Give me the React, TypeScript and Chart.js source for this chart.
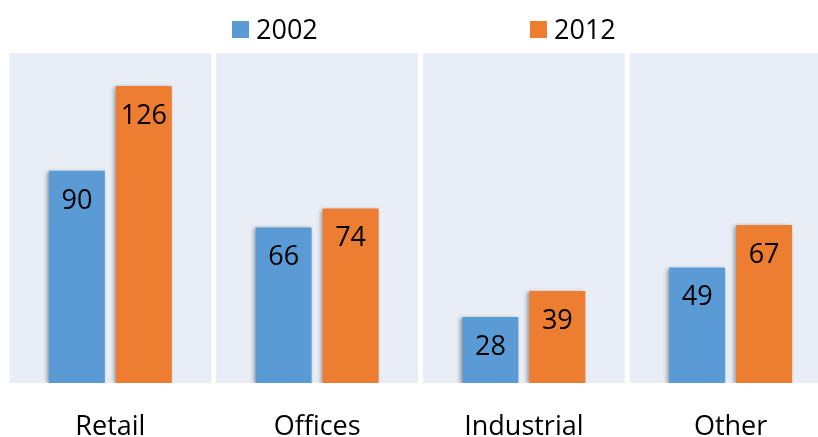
import React, { useEffect, useRef } from "react";
import { Chart, registerables } from "chart.js";

Chart.register(...registerables);

const categories = ["Retail", "Offices", "Industrial", "Other"];
const seriesNames = ["2002", "2012"];
const values2002 = [90, 66, 28, 49];
const values2012 = [126, 74, 39, 67];
const seriesColors = ["#5B9BD5", "#ED7D31"];
const yMax = 140;

const FONT = "'Open Sans', 'Noto Sans', sans-serif";
const FONT_SIZE = 27;

const panelsPlugin = {
  id: "panels",
  beforeDatasetsDraw(chart: any) {
    const { ctx, chartArea, scales } = chart;
    const x = scales.x;
    const n = categories.length;
    const step = (chartArea.right - chartArea.left) / n;
    const half = (step - 4.75) / 2;
    ctx.save();
    ctx.fillStyle = "#E9EDF6";
    for (let i = 0; i < n; i++) {
      const c = x.getPixelForValue(i);
      ctx.fillRect(c - half, chartArea.top, half * 2, chartArea.bottom - chartArea.top);
    }
    ctx.restore();
  },
};

const shadowPlugin = {
  id: "barShadow",
  beforeDatasetDraw(chart: any) {
    const ctx = chart.ctx;
    ctx.save();
    ctx.shadowColor = "rgba(0,0,0,0.35)";
    ctx.shadowBlur = 4;
    ctx.shadowOffsetX = -2;
    ctx.shadowOffsetY = 1;
  },
  afterDatasetDraw(chart: any) {
    chart.ctx.restore();
  },
};

const labelsPlugin = {
  id: "valueLabels",
  afterDatasetsDraw(chart: any) {
    const { ctx } = chart;
    ctx.save();
    ctx.font = `${FONT_SIZE}px ${FONT}`;
    ctx.fillStyle = "#000";
    ctx.textAlign = "center";
    ctx.textBaseline = "middle";
    chart.data.datasets.forEach((ds: any, di: number) => {
      const meta = chart.getDatasetMeta(di);
      meta.data.forEach((bar: any, i: number) => {
        ctx.fillText(String(ds.data[i]), bar.x, bar.y + 30);
      });
    });
    ctx.restore();
  },
};

const legendPlugin = {
  id: "customLegend",
  afterDraw(chart: any) {
    const { ctx, chartArea } = chart;
    const cx = (chartArea.left + chartArea.right) / 2;
    const offsets = [-188.5, 109.5];
    ctx.save();
    ctx.font = `${FONT_SIZE}px ${FONT}`;
    ctx.textBaseline = "middle";
    ctx.textAlign = "left";
    chart.data.datasets.forEach((ds: any, i: number) => {
      const bx = cx + offsets[i];
      ctx.fillStyle = ds.backgroundColor;
      ctx.fillRect(bx, 21, 17, 17);
      ctx.fillStyle = "#000";
      ctx.fillText(ds.label, bx + 24, 31);
    });
    ctx.restore();
  },
};

export default function App() {
  const ref = useRef<HTMLCanvasElement | null>(null);
  useEffect(() => {
    if (!ref.current) return;
    const chart = new Chart(ref.current, {
      type: "bar",
      data: {
        labels: categories,
        datasets: [
          { label: seriesNames[0], data: values2002, backgroundColor: seriesColors[0] },
          { label: seriesNames[1], data: values2012, backgroundColor: seriesColors[1] },
        ],
      },
      options: {
        animation: false,
        responsive: false,
        maintainAspectRatio: false,
        devicePixelRatio: 1,
        layout: { padding: { left: 7, right: 7, top: 53, bottom: 0 } },
        datasets: {
          bar: { categoryPercentage: 0.648, barPercentage: 0.836 },
        },
        plugins: {
          legend: { display: false },
          tooltip: { enabled: false },
        },
        scales: {
          x: {
            grid: { display: false, drawTicks: false },
            border: { display: false },
            ticks: {
              color: "#000",
              font: { family: FONT, size: FONT_SIZE },
              padding: 28,
            },
            afterFit: (s: any) => {
              s.height = 54;
            },
          },
          y: {
            display: false,
            min: 0,
            max: yMax,
          },
        },
      },
      plugins: [panelsPlugin, shadowPlugin, labelsPlugin, legendPlugin],
    });
    return () => chart.destroy();
  }, []);
  return (
    <div
      style={{
        position: "absolute",
        left: 0,
        top: 0,
        width: 818,
        height: 437,
        overflow: "hidden",
        background: "#fff",
      }}
    >
      <canvas ref={ref} width={841} height={437} style={{ display: "block" }} />
    </div>
  );
}
